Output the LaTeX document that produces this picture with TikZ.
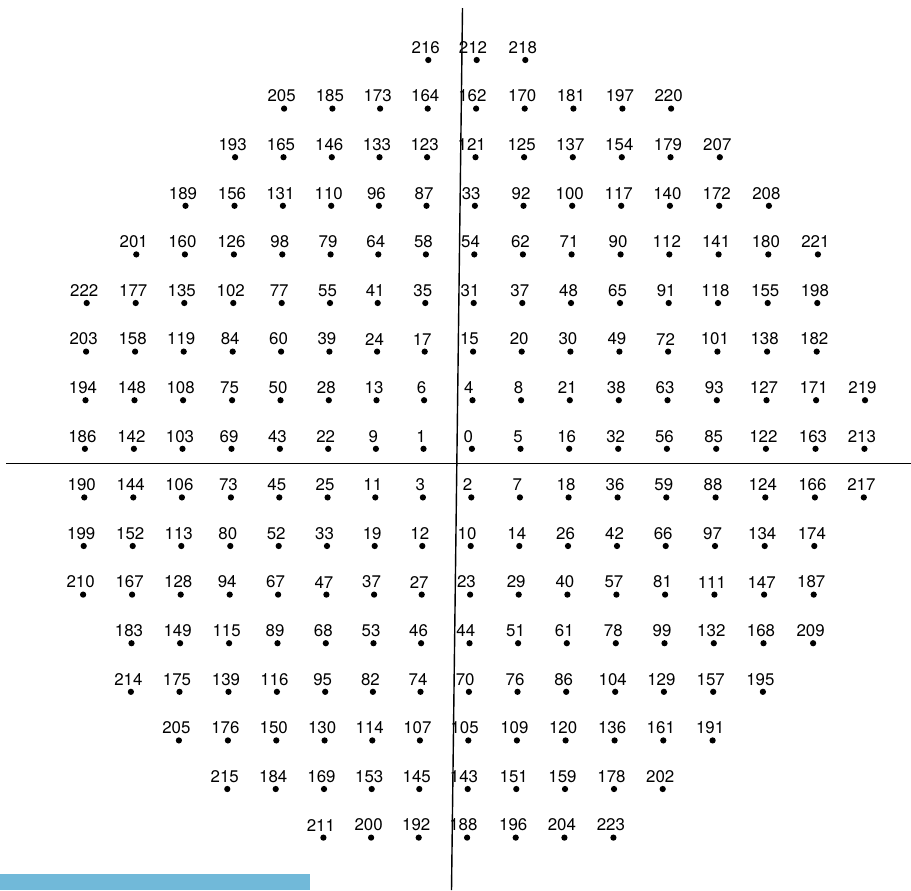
\documentclass[tikz,border=0pt]{standalone}
\usepackage{fontspec}
\setmainfont{TeX Gyre Heros}
\usepackage{xcolor}
\usepackage{tikz}
\usetikzlibrary{positioning,calc}

\definecolor{barblue}{RGB}{113,185,217}

% column centres of the dot grid (row 5), in pixels
\def\colx{{86.7,135.7,184.3,233.3,281.7,330,377.7,425.3,473.7,522.3,571,620,668.7,718,767.7,817.3,866.2}}

\begin{document}
\begin{tikzpicture}[
        x=0.02cm, y=-0.02cm,
        every node/.style={font=\fontsize{9.6}{10}\selectfont},
        spot/.style={
            circle,
            fill=black,
            inner sep=0pt,
            minimum size=0.125cm
        },
        numlabel/.style={
            inner sep=0pt,
            anchor=center
        },
        axis/.style={draw=black, line width=0.8pt}
    ]
        \useasboundingbox (0,0) rectangle (911,890);

        % Dots with their numbers, row by row (first column, labels)
        \foreach \row/\first/\labels in {
            0/7/{216,212,218},
            1/4/{205,185,173,164,162,170,181,197,220},
            2/3/{193,165,146,133,123,121,125,137,154,179,207},
            3/2/{189,156,131,110,96,87,33,92,100,117,140,172,208},
            4/1/{201,160,126,98,79,64,58,54,62,71,90,112,141,180,221},
            5/0/{222,177,135,102,77,55,41,35,31,37,48,65,91,118,155,198},
            6/0/{203,158,119,84,60,39,24,17,15,20,30,49,72,101,138,182},
            7/0/{194,148,108,75,50,28,13,6,4,8,21,38,63,93,127,171,219},
            8/0/{186,142,103,69,43,22,9,1,0,5,16,32,56,85,122,163,213},
            9/0/{190,144,106,73,45,25,11,3,2,7,18,36,59,88,124,166,217},
            10/0/{199,152,113,80,52,33,19,12,10,14,26,42,66,97,134,174},
            11/0/{210,167,128,94,67,47,37,27,23,29,40,57,81,111,147,187},
            12/1/{183,149,115,89,68,53,46,44,51,61,78,99,132,168,209},
            13/1/{214,175,139,116,95,82,74,70,76,86,104,129,157,195},
            14/2/{205,176,150,130,114,107,105,109,120,136,161,191},
            15/3/{215,184,169,153,145,143,151,159,178,202},
            16/5/{211,200,192,188,196,204,223}} {
            \foreach \lab [count=\k from 0] in \labels {
                \pgfmathtruncatemacro\col{\first+\k}
                \pgfmathsetmacro\dx{\colx[\col]-0.6*(\row-5)}
                \pgfmathsetmacro\dy{60+48.6*\row}
                \pgfmathsetmacro\lx{\col==8 ? -3.7 : -2.5}
                \node[spot] (d\row-\col) at (\dx,\dy) {};
                \node[numlabel] (n\row-\col) at ($(d\row-\col)+(\lx,-12.5)$) {\lab};
            }
        }

        % Axes
        \coordinate (vtop) at (462.5,8);
        \coordinate (vbot) at (451.5,890);
        \coordinate (hleft) at (6,463.3);
        \coordinate (hright) at (911,463.3);
        \draw[axis] (vtop) -- (vbot);
        \draw[axis] (hleft) -- (hright);

        % Bar at the foot
        \fill[barblue] (0,874) rectangle (310,890);

    \end{tikzpicture}
\end{document}
